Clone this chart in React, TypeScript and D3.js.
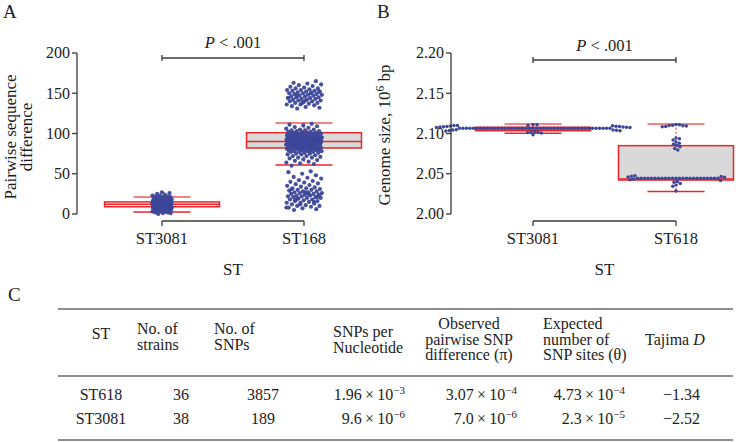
import React from "react";
import * as d3 from "d3";

// ---------- DATA ----------
const categoriesA = ["ST3081", "ST168"];
const categoriesB = ["ST3081", "ST618"];
const yTicksA = [0, 50, 100, 150, 200];
const yTicksB = [2.0, 2.05, 2.1, 2.15, 2.2];

// box stats: [lower whisker, q1, median, q3, upper whisker]
const boxA_ST3081 = [2.5, 9, 12, 15, 21];
const boxA_ST168 = [61, 82, 90, 101, 113];
const boxB_ST3081 = [2.1003, 2.1035, 2.1056, 2.1077, 2.1118];
const boxB_ST618 = [2.028, 2.0422, 2.0435, 2.0849, 2.1118];

// Pairwise sequence differences (panel A)
const pairwiseST3081 = [
  0, 1, 1, 2, 2, 3, 3, 3, 4, 4, 4, 5, 5, 5, 5, 6, 6, 6, 6, 7, 7, 7, 7, 7, 8, 8, 8, 8, 8, 9, 9, 9, 9, 9, 9,
  10, 10, 10, 10, 10, 10, 11, 11, 11, 11, 11, 11, 12, 12, 12, 12, 12, 12, 12, 13, 13, 13, 13, 13, 13,
  14, 14, 14, 14, 14, 14, 15, 15, 15, 15, 15, 16, 16, 16, 16, 16, 17, 17, 17, 17, 18, 18, 18, 18,
  19, 19, 19, 20, 20, 20, 21, 21, 22, 22, 23, 23, 24, 25, 26, 27, 11, 13, 9, 15, 12, 10, 14, 8, 16, 12,
];
const pairwiseST168High = [
  131, 132, 133, 134, 135, 136, 136, 137, 138, 138, 139, 140, 140, 141, 141, 142, 142, 143, 143, 144, 144,
  145, 145, 146, 146, 147, 147, 148, 148, 149, 149, 150, 150, 151, 151, 152, 152, 153, 153, 154, 154, 155,
  156, 156, 157, 158, 159, 160, 161, 162, 163, 165, 138, 144, 150, 147, 152, 141,
];
const pairwiseST168Mid = [
  60, 62, 63, 64, 65, 66, 67, 68, 69, 70, 70, 71, 72, 72, 73, 74, 74, 75, 75, 76, 76, 77, 77, 77, 78, 78, 78,
  79, 79, 79, 80, 80, 80, 80, 81, 81, 81, 81, 82, 82, 82, 82, 83, 83, 83, 83, 84, 84, 84, 84, 84, 85, 85, 85,
  85, 85, 86, 86, 86, 86, 86, 87, 87, 87, 87, 87, 87, 88, 88, 88, 88, 88, 88, 89, 89, 89, 89, 89, 89, 90, 90,
  90, 90, 90, 90, 90, 91, 91, 91, 91, 91, 91, 92, 92, 92, 92, 92, 92, 93, 93, 93, 93, 93, 93, 94, 94, 94, 94,
  94, 95, 95, 95, 95, 95, 96, 96, 96, 96, 96, 97, 97, 97, 97, 98, 98, 98, 98, 99, 99, 99, 99, 100, 100, 100,
  100, 101, 101, 101, 102, 102, 102, 103, 103, 104, 104, 105, 105, 106, 107, 108, 109, 110, 111, 112, 90,
  88, 92, 86, 94, 84, 96, 78, 100, 82, 91, 89, 93, 87, 95, 85,
];
const pairwiseST168Low = [
  5, 6, 7, 8, 9, 10, 10, 11, 12, 13, 14, 14, 15, 16, 16, 17, 18, 18, 19, 20, 20, 21, 21, 22, 22, 23, 23, 24,
  24, 25, 25, 26, 26, 27, 27, 28, 28, 29, 30, 30, 31, 32, 32, 33, 34, 35, 36, 37, 38, 39, 40, 41, 42, 44, 45,
  46, 48, 50, 52, 53, 19, 23, 27, 31, 15, 12, 8, 25, 17, 21,
];

// Genome sizes, 10^6 bp (panel B)
const genomeST3081 = [
  2.1065, 2.1065, 2.1065, 2.1065, 2.1065, 2.1065, 2.1065, 2.1065, 2.1065, 2.1065, 2.1065, 2.1065,
  2.1065, 2.1065, 2.1065, 2.1065, 2.1065, 2.1065, 2.1065, 2.1065, 2.1065, 2.1065, 2.1065, 2.1065,
  2.1065, 2.1065, 2.1065, 2.1065, 2.1065, 2.1065, 2.1065, 2.1065, 2.1065, 2.1065, 2.1065, 2.1065,
  2.1065, 2.1065, 2.1065, 2.1065, 2.1065, 2.1065, 2.1065, 2.1065,
  2.1112, 2.1108, 2.1104, 2.1100, 2.1098, 2.1095, 2.1092, 2.1090, 2.1088, 2.1086, 2.1084, 2.1082,
  2.1080, 2.1078, 2.1076, 2.1074,
  2.1048, 2.1045, 2.1042, 2.1040, 2.1037, 2.1034, 2.1030, 2.1026, 2.1022, 2.1018, 2.1012, 2.1005, 2.0985,
];
const genomeST618 = [
  2.1112, 2.1108, 2.1104, 2.1100, 2.1096, 2.1092, 2.1088, 2.1084,
  2.0945, 2.0935, 2.0920, 2.0895, 2.0880, 2.0865, 2.0850, 2.0835, 2.0815, 2.0795,
  2.0445, 2.0445, 2.0445, 2.0445, 2.0445, 2.0445, 2.0445, 2.0445, 2.0445, 2.0445, 2.0445, 2.0445,
  2.0445, 2.0445, 2.0445, 2.0445, 2.0445, 2.0445, 2.0445, 2.0445, 2.0445, 2.0445, 2.0445, 2.0445,
  2.0475, 2.0470, 2.0465, 2.0460, 2.0455, 2.0435, 2.0425, 2.0415, 2.0405, 2.0395, 2.0380, 2.0360, 2.0345, 2.0285,
];

// Table (panel C)
const tableST = ["ST618", "ST3081"];
const tableStrains = [36, 38];
const tableSNPs = [3857, 189];
const snpsPerNucMant = ["1.96", "9.6"];
const snpsPerNucExp = [3, 6];
const piMant = ["3.07", "7.0"];
const piExp = [4, 6];
const thetaMant = ["4.73", "2.3"];
const thetaExp = [4, 5];
const tajimaD = [-1.34, -2.52];

// ---------- STYLE ----------
const FONT = "Liberation Serif, DejaVu Serif, Noto Serif, Times New Roman, serif";
const TXT = "#1c1c1c";
const AX = "#3a3a3a";
const RED = "#e8262b";
const CAP = "#f05a5a";
const DOT = "#3d4799";

function swarm(values: number[], y: (v: number) => number, r: number) {
  const pts = values.map((v) => ({ v, y: y(v), x: 0 }));
  const placed: { v: number; y: number; x: number }[] = [];
  const d = 2 * r;
  for (const p of pts) {
    const near = placed.filter((q) => Math.abs(q.y - p.y) < d);
    const cands = [0];
    for (const q of near) {
      const dx = Math.sqrt(Math.max(0, d * d - (q.y - p.y) ** 2));
      cands.push(q.x + dx + 1e-4, q.x - dx - 1e-4);
    }
    cands.sort((a, b) => Math.abs(a) - Math.abs(b));
    for (const c of cands) {
      if (near.every((q) => (q.x - c) ** 2 + (q.y - p.y) ** 2 >= d * d - 1e-2)) {
        p.x = c;
        break;
      }
    }
    placed.push(p);
  }
  return placed;
}

function jitter(i: number) {
  return ((i * 0.6180339887 + 0.31) % 1) * 2 - 1;
}

type BoxProps = { cx: number; y: (v: number) => number; s: number[]; fill: string };
function Box({ cx, y, s, fill }: BoxProps) {
  const bw = 115;
  const cw = 57;
  return (
    <g>
      <line x1={cx} x2={cx} y1={y(s[3])} y2={y(s[4])} stroke={RED} strokeWidth={1} strokeDasharray="2,2" />
      <line x1={cx} x2={cx} y1={y(s[1])} y2={y(s[0])} stroke={RED} strokeWidth={1} strokeDasharray="2,2" />
      <line x1={cx - cw / 2} x2={cx + cw / 2} y1={y(s[4])} y2={y(s[4])} stroke={CAP} strokeWidth={1.5} />
      <line x1={cx - cw / 2} x2={cx + cw / 2} y1={y(s[0])} y2={y(s[0])} stroke={RED} strokeWidth={1.5} />
      <rect x={cx - bw / 2} y={y(s[3])} width={bw} height={y(s[1]) - y(s[3])} fill={fill} stroke={RED} strokeWidth={1.5} />
      <line x1={cx - bw / 2} x2={cx + bw / 2} y1={y(s[2])} y2={y(s[2])} stroke={RED} strokeWidth={1.5} />
    </g>
  );
}

type PanelProps = {
  x: d3.ScalePoint<string>;
  y: d3.ScaleLinear<number, number>;
  ticks: number[];
  fmt: (v: number) => string;
  axisX: number;
};
function Axes({ x, y, ticks, fmt, axisX }: PanelProps) {
  const dom = x.domain();
  const x0 = x(dom[0])!;
  const x1 = x(dom[dom.length - 1])!;
  const yb = 221;
  return (
    <g style={{ fontFamily: FONT }} fill={TXT}>
      <line x1={axisX} x2={axisX} y1={y(ticks[0])} y2={y(ticks[ticks.length - 1])} stroke={AX} strokeWidth={1.3} />
      {ticks.map((t) => (
        <g key={t}>
          <line x1={axisX - 5} x2={axisX} y1={y(t)} y2={y(t)} stroke={AX} strokeWidth={1.3} />
          <text x={axisX - 7} y={y(t)} dy="0.34em" textAnchor="end" fontSize={16}>
            {fmt(t)}
          </text>
        </g>
      ))}
      <line x1={x0} x2={x1} y1={yb} y2={yb} stroke={AX} strokeWidth={1.3} />
      {dom.map((c) => (
        <g key={c}>
          <line x1={x(c)} x2={x(c)} y1={yb} y2={yb + 5} stroke={AX} strokeWidth={1.3} />
          <text x={x(c)} y={244} textAnchor="middle" fontSize={16.5}>
            {c}
          </text>
        </g>
      ))}
      <text x={(x0 + x1) / 2} y={275} textAnchor="middle" fontSize={17}>
        ST
      </text>
    </g>
  );
}

function Bracket({ x0, x1, yb, ty }: { x0: number; x1: number; yb: number; ty: number }) {
  return (
    <g>
      <line x1={x0} x2={x1} y1={yb} y2={yb} stroke={AX} strokeWidth={1.3} />
      <line x1={x0} x2={x0} y1={yb - 3} y2={yb + 3} stroke={AX} strokeWidth={1.3} />
      <line x1={x1} x2={x1} y1={yb - 3} y2={yb + 3} stroke={AX} strokeWidth={1.3} />
      <text x={(x0 + x1) / 2} y={ty} textAnchor="middle" style={{ fontFamily: FONT }} fontSize={16.5} fill={TXT}>
        <tspan fontStyle="italic">P</tspan>
        {" < .001"}
      </text>
    </g>
  );
}

function Sci({ x, y, m, e }: { x: number; y: number; m: string; e: number }) {
  return (
    <text x={x} y={y} textAnchor="end">
      {m}
      {"\u2009×\u200910"}
      <tspan dy={-6} fontSize={11}>
        {"−" + e}
      </tspan>
    </text>
  );
}

export default function App() {
  const yA = d3.scaleLinear().domain([0, 200]).range([214, 53]);
  const xA = d3.scalePoint<string>().domain(categoriesA).range([162, 304]);
  const yB = d3.scaleLinear().domain([2.0, 2.2]).range([214, 53]);
  const xB = d3.scalePoint<string>().domain(categoriesB).range([533, 676]);

  const ptsA1 = pairwiseST3081.map((v, i) => ({ x: xA("ST3081")! + jitter(i) * 10, y: yA(v) }));
  const st168 = [...pairwiseST168High, ...pairwiseST168Mid, ...pairwiseST168Low];
  const ptsA2 = st168.map((v, i) => ({ x: xA("ST168")! + jitter(i) * 18, y: yA(v) }));

  const r = 1.75;
  const swB1 = swarm(genomeST3081, yB, r);
  const swB2 = swarm(genomeST618, yB, r);

  const headerLS = 15.5;
  const headers: { lines: string[]; x: number; anchor: string; y0: number }[] = [
    { lines: ["ST"], x: 101, anchor: "middle", y0: 339 },
    { lines: ["No. of", "strains"], x: 137, anchor: "start", y0: 334 },
    { lines: ["No. of", "SNPs"], x: 214, anchor: "start", y0: 334 },
    { lines: ["SNPs per", "Nucleotide"], x: 333, anchor: "start", y0: 337 },
    { lines: ["Observed", "pairwise SNP", "difference (π)"], x: 469, anchor: "middle", y0: 329 },
    { lines: ["Expected", "number of", "SNP sites (θ)"], x: 543, anchor: "start", y0: 329 },
  ];
  const rowY = [400, 424];

  return (
    <svg width={740} height={442} style={{ position: "absolute", left: 0, top: 0, background: "#fff", fontFamily: FONT }}>
      <rect width={740} height={442} fill="#fff" />
      {/* Panel labels */}
      <g fontSize={19} fill={TXT}>
        <text x={3} y={18}>A</text>
        <text x={377} y={18}>B</text>
        <text x={8} y={301}>C</text>
      </g>

      {/* ---------- Panel A ---------- */}
      <Box cx={xA("ST3081")!} y={yA} s={boxA_ST3081} fill="#f6eded" />
      <Box cx={xA("ST168")!} y={yA} s={boxA_ST168} fill="#d9d9d9" />
      <g fill={DOT} fillOpacity={0.95}>
        {ptsA1.map((p, i) => (
          <circle key={"a1" + i} cx={p.x} cy={p.y} r={2.1} />
        ))}
        {ptsA2.map((p, i) => (
          <circle key={"a2" + i} cx={p.x} cy={p.y} r={2.1} />
        ))}
      </g>
      <Axes x={xA} y={yA} ticks={yTicksA} fmt={(v) => d3.format("d")(v)} axisX={77} />
      <Bracket x0={xA("ST3081")!} x1={xA("ST168")!} yb={58} ty={48} />
      <text transform="translate(15.5,137) rotate(-90)" textAnchor="middle" fontSize={17} fill={TXT}>
        Pairwise sequence
      </text>
      <text transform="translate(31.5,137) rotate(-90)" textAnchor="middle" fontSize={17} fill={TXT}>
        difference
      </text>

      {/* ---------- Panel B ---------- */}
      <Box cx={xB("ST3081")!} y={yB} s={boxB_ST3081} fill="#f6eded" />
      <Box cx={xB("ST618")!} y={yB} s={boxB_ST618} fill="#d9d9d9" />
      <g fill={DOT}>
        {swB1.map((p, i) => (
          <circle key={"b1" + i} cx={xB("ST3081")! + p.x} cy={p.y} r={r} />
        ))}
        {swB2.map((p, i) => (
          <circle key={"b2" + i} cx={xB("ST618")! + p.x} cy={p.y} r={r} />
        ))}
      </g>
      <Axes x={xB} y={yB} ticks={yTicksB} fmt={(v) => d3.format(".2f")(v)} axisX={451} />
      <Bracket x0={xB("ST3081")!} x1={xB("ST618")!} yb={60} ty={51} />
      <text transform="translate(390,135) rotate(-90)" textAnchor="middle" fontSize={17} fill={TXT}>
        {"Genome size, 10"}
        <tspan dy={-6} fontSize={11.5}>6</tspan>
        <tspan dy={6}>{" bp"}</tspan>
      </text>

      {/* ---------- Panel C (table) ---------- */}
      <g stroke="#6a6a6a" strokeWidth={1.3}>
        <line x1={58} x2={733} y1={309} y2={309} />
        <line x1={58} x2={733} y1={376} y2={376} />
        <line x1={58} x2={733} y1={440} y2={440} />
      </g>
      <g fontSize={16} fill={TXT}>
        {headers.map((h, i) => (
          <text key={i} x={h.x} y={h.y0} textAnchor={h.anchor as any}>
            {h.lines.map((l, j) => (
              <tspan key={j} x={h.x} y={h.y0 + j * headerLS}>
                {l}
              </tspan>
            ))}
          </text>
        ))}
        <text x={645} y={345}>
          {"Tajima "}
          <tspan fontStyle="italic">D</tspan>
        </text>
        {tableST.map((s, i) => (
          <g key={s}>
            <text x={101} y={rowY[i]} textAnchor="middle">{s}</text>
            <text x={181} y={rowY[i]} textAnchor="middle">{tableStrains[i]}</text>
            <text x={263} y={rowY[i]} textAnchor="middle">{tableSNPs[i]}</text>
            <Sci x={405} y={rowY[i]} m={snpsPerNucMant[i]} e={snpsPerNucExp[i]} />
            <Sci x={517} y={rowY[i]} m={piMant[i]} e={piExp[i]} />
            <Sci x={625} y={rowY[i]} m={thetaMant[i]} e={thetaExp[i]} />
            <text x={700} y={rowY[i]} textAnchor="end">
              {"−" + Math.abs(tajimaD[i]).toFixed(2)}
            </text>
          </g>
        ))}
      </g>
    </svg>
  );
}
